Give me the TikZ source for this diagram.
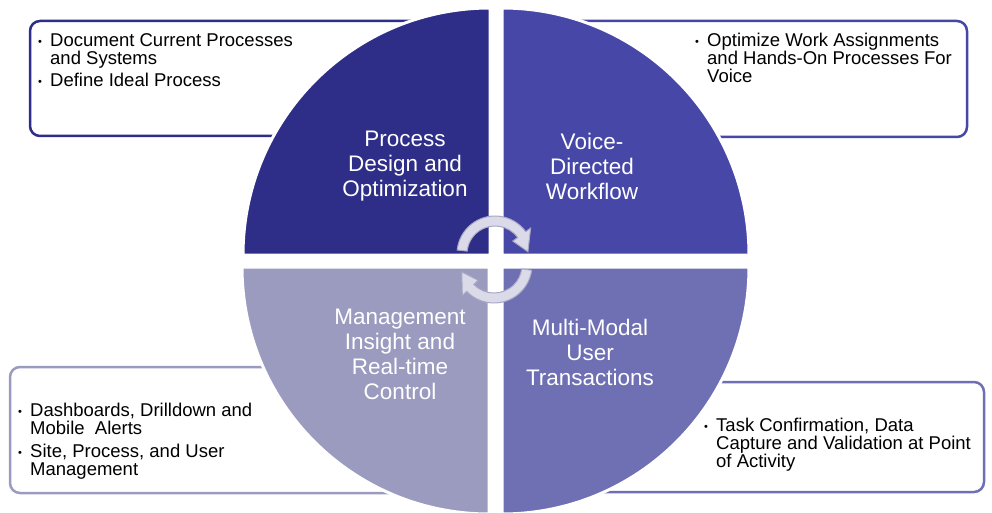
\documentclass[tikz,border=0pt]{standalone}
\usepackage{fontspec}
\setmainfont{Liberation Sans}
\usepackage{xcolor}

\definecolor{qdesign}{RGB}{46,46,136}
\definecolor{qvoice}{RGB}{71,71,168}
\definecolor{qmulti}{RGB}{111,111,180}
\definecolor{qmanage}{RGB}{155,155,192}
\definecolor{arrowfill}{RGB}{218,218,232}
\definecolor{arrowedge}{RGB}{168,168,196}

\newcommand{\bul}{\makebox[12pt][l]{\raisebox{1pt}{\fontsize{11}{11}\selectfont\textbullet}}}

\tikzset{
  infobox/.style={line width=2.5pt, rounded corners=10pt, fill=white},
  boxtext/.style={anchor=north west, align=left, inner sep=0pt, text=black,
                  font=\fontsize{18.5}{18}\selectfont},
  quadtext/.style={align=center, inner sep=0pt, text=white,
                   font=\fontsize{22.5}{25}\selectfont},
  turn/.style={fill=arrowfill, draw=arrowedge, line width=1pt}
}

\begin{document}
\begin{tikzpicture}[x=1pt,y=1pt]
\useasboundingbox (0,0) rectangle (992,512);

% boxes sit behind the wheel
\draw[qdesign, infobox] (30,376) rectangle (450,491);
\draw[qvoice, infobox] (540,375) rectangle (967,491);
\draw[qmanage, infobox] (10,19) rectangle (450,145);
\draw[qmulti, infobox] (540,20) rectangle (984,130);

% four quarters of the wheel
\filldraw[qdesign, draw=white, line width=3pt] (490,257) -- (243,257) arc (180:90:247) -- cycle;
\filldraw[qvoice, draw=white, line width=3pt] (502,257) -- (502,504) arc (90:0:247) -- cycle;
\filldraw[qmulti, draw=white, line width=3pt] (502,245) -- (749,245) arc (0:-90:247) -- cycle;
\filldraw[qmanage, draw=white, line width=3pt] (489,245) -- (489,-2) arc (270:180:247) -- cycle;

% turning arrows in the middle
\begin{scope}[shift={(495,258)}]
\filldraw[turn] (174:38) arc (174:36:38) -- (36:44) -- (4:33) -- (36:22) -- (36:28) arc (36:174:28) -- cycle;
\end{scope}
\begin{scope}[shift={(494,247)}]
\filldraw[turn] (-8:38) arc (-8:-136:38) -- (-136:44) -- (-168:33) -- (-136:22) -- (-136:28) arc (-136:-8:28) -- cycle;
\end{scope}

% quarter titles
\node[quadtext] (design) at (405,346) {Process\\Design and\\Optimization};
\node[quadtext] (voice) at (592,346) {Voice-\\Directed\\Workflow};
\node[quadtext] (multi) at (590,160) {Multi-Modal\\User\\Transactions};
\node[quadtext] (manage) at (400,158) {Management\\Insight and\\Real-time\\Control};

% bullet lists
\node[boxtext] (designlist) at (38,479) {\bul Document Current Processes\\
  \hspace*{12pt}and Systems\\[4pt]
  \bul Define Ideal Process};
\node[boxtext] (voicelist) at (695,479) {\bul Optimize Work Assignments\\
  \hspace*{12pt}and Hands-On Processes For\\
  \hspace*{12pt}Voice};
\node[boxtext] (managelist) at (18,109) {\bul Dashboards, Drilldown and\\
  \hspace*{12pt}Mobile\ \ Alerts\\[5pt]
  \bul Site, Process, and User\\
  \hspace*{12pt}Management};
\node[boxtext] (multilist) at (704,94) {\bul Task Confirmation, Data\\
  \hspace*{12pt}Capture and Validation at Point\\
  \hspace*{12pt}of Activity};
\end{tikzpicture}
\end{document}
